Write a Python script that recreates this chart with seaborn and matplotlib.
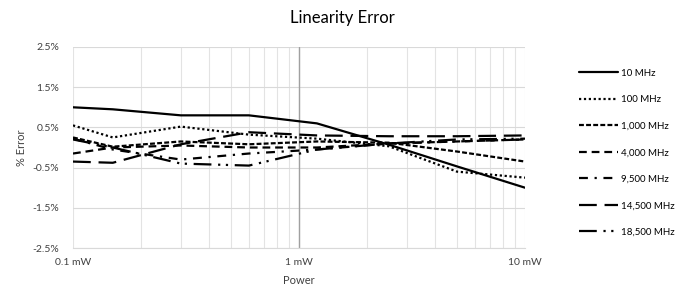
import numpy as np
import pandas as pd
import matplotlib
matplotlib.use("Agg")
import matplotlib.pyplot as plt
import seaborn as sns
from matplotlib.ticker import FixedLocator, NullFormatter

power_mw = [0.1, 0.15, 0.3, 0.6, 1.2, 2.5, 5, 10]
series_names = ["10 MHz", "100 MHz", "1,000 MHz", "4,000 MHz", "9,500 MHz", "14,500 MHz", "18,500 MHz"]
err_10 = [1.00, 0.95, 0.80, 0.80, 0.60, 0.07, -0.47, -1.00]
err_100 = [0.55, 0.25, 0.52, 0.32, 0.22, 0.03, -0.60, -0.75]
err_1000 = [0.25, 0.02, 0.15, 0.08, 0.15, 0.12, -0.10, -0.35]
err_4000 = [-0.15, 0.00, 0.05, 0.00, 0.00, 0.10, 0.15, 0.20]
err_9500 = [0.22, -0.05, -0.30, -0.15, -0.05, 0.10, 0.15, 0.20]
err_14500 = [-0.35, -0.38, 0.08, 0.38, 0.30, 0.28, 0.28, 0.30]
err_18500 = [0.20, 0.00, -0.40, -0.45, -0.05, 0.10, 0.20, 0.22]
y_ticks = [2.5, 1.5, 0.5, -0.5, -1.5, -2.5]
y_tick_labels = ["2.5%", "1.5%", "0.5%", "-0.5%", "-1.5%", "-2.5%"]
x_ticks = [0.1, 1, 10]
x_tick_labels = ["0.1 mW", "1 mW", "10 mW"]

all_err = [err_10, err_100, err_1000, err_4000, err_9500, err_14500, err_18500]
rows = []
for name, vals in zip(series_names, all_err):
    for p, v in zip(power_mw, vals):
        rows.append({"Power": p, "Error": v, "Series": name})
df = pd.DataFrame(rows)

sns.set_style("white")
plt.rcParams["font.family"] = ["Lato", "DejaVu Sans"]

fig = plt.figure(figsize=(6.87, 2.94), dpi=100)
ax = fig.add_axes([73/687, 1-248/294, (525-73)/687, (248-47)/294])

dash_styles = ["", (1, 1.2), (2.2, 1.0), (3.5, 2.2), (4, 3, 1, 3), (8, 3.5), (8, 3, 1, 2.5, 1, 3)]
sns.lineplot(data=df, x="Power", y="Error", hue="Series", style="Series",
             palette=["black"] * 7, dashes=dash_styles, linewidth=1.6,
             ax=ax, legend=True)

ax.set_xscale("log")
ax.set_xlim(0.1, 10)
ax.set_ylim(-2.5, 2.5)
ax.set_yticks(y_ticks)
ax.set_yticklabels(y_tick_labels)
ax.set_xticks(x_ticks)
ax.set_xticklabels(x_tick_labels)
minor = [m * d for d in (0.1, 1) for m in range(2, 10)]
ax.xaxis.set_minor_locator(FixedLocator(minor))
ax.xaxis.set_minor_formatter(NullFormatter())
ax.grid(True, which="major", axis="y", color="#d9d9d9", linewidth=0.8)
ax.grid(True, which="both", axis="x", color="#e3e3e3", linewidth=0.8)
ax.axvline(1, color="#a0a0a0", linewidth=1.0, zorder=1)
for s in ["top", "right", "left"]:
    ax.spines[s].set_visible(False)
ax.spines["bottom"].set_color("#d9d9d9")
ax.tick_params(axis="both", which="both", length=0, labelsize=7.5, colors="#404040")
ax.tick_params(axis="x", pad=7)
ax.tick_params(axis="y", pad=10)
ax.set_xlabel("Power", fontsize=8, color="#404040", labelpad=6)
ax.set_ylabel("% Error", fontsize=8, color="#404040", labelpad=4)
fig.text(342/687, 1-18/294, "Linearity Error", ha="center", va="center", fontsize=12, color="#000000")

handles, labels = ax.get_legend_handles_labels()
ax.legend_.remove()
leg = fig.legend(handles, labels, loc="upper left", bbox_to_anchor=(570/687, 1-60/294),
                 frameon=False, fontsize=7, handlelength=4.0, labelspacing=1.8,
                 handletextpad=0.3, labelcolor="#000000")

fig.savefig("out.png", dpi=100)
